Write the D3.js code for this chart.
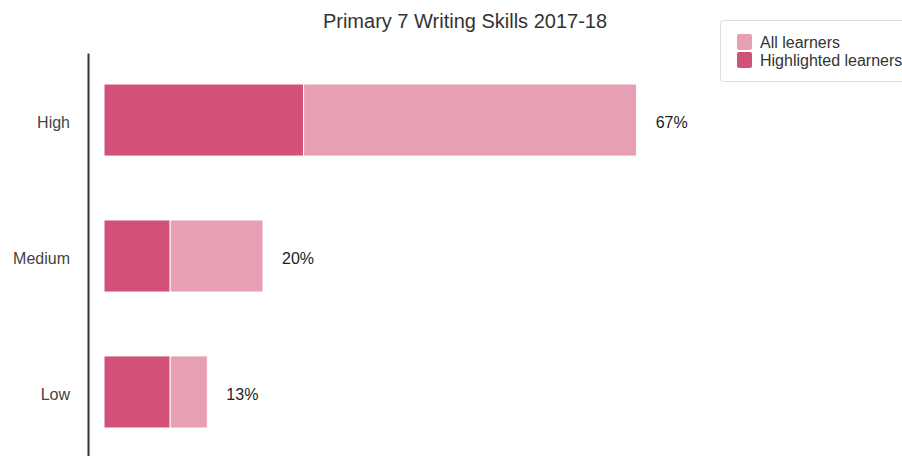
<!DOCTYPE html>
<html>
<head>
<meta charset="utf-8">
<script src="https://cdn.jsdelivr.net/npm/d3@7"></script>
<style>
  body { margin: 0; background: #fff; }
  svg { display: block; font-family: "Liberation Sans", Arial, sans-serif; }
</style>
</head>
<body>
<div id="chart"></div>
<script>
// data
const categories = ["High", "Medium", "Low"];
const allLearners = [67, 20, 13];          // % of all learners
const highlighted = [25.1, 8.3, 8.3];      // highlighted learners part
const seriesNames = ["All learners", "Highlighted learners"];
const colors = ["#e79fb3", "#d15179"];

const width = 902, height = 456;

const svg = d3.select("#chart").append("svg")
  .attr("width", width).attr("height", height);

// scales
const x = d3.scaleLinear().domain([0, 100]).range([104, 899]);
const y = d3.scaleBand().domain(categories).range([53, 459])
  .paddingInner(0.47).paddingOuter(0.228);

// title
svg.append("text")
  .attr("x", 465).attr("y", 28)
  .attr("text-anchor", "middle")
  .attr("font-size", "20px")
  .attr("fill", "#333")
  .text("Primary 7 Writing Skills 2017-18");

// y axis
const yAxis = svg.append("g")
  .attr("transform", "translate(88,0)")
  .call(d3.axisLeft(y).tickSize(0).tickPadding(18));
yAxis.select(".domain").attr("stroke", "#333").attr("stroke-width", 2);
yAxis.selectAll("text").attr("font-size", "16px").attr("fill", "#444")
  .attr("dy", "0.5em")
  .attr("font-family", "Liberation Sans, Arial, sans-serif");

// bars
const rows = categories.map((c, i) => ({ cat: c, all: allLearners[i], hi: highlighted[i] }));

const bars = svg.append("g").selectAll("g").data(rows).enter().append("g");

// all learners (remainder after highlighted)
bars.append("rect")
  .attr("x", d => x(d.hi))
  .attr("y", d => y(d.cat))
  .attr("width", d => x(d.all) - x(d.hi))
  .attr("height", y.bandwidth())
  .attr("fill", colors[0])
  .attr("stroke", "#fff").attr("stroke-width", 1);

// highlighted learners
bars.append("rect")
  .attr("x", x(0))
  .attr("y", d => y(d.cat))
  .attr("width", d => x(d.hi) - x(0))
  .attr("height", y.bandwidth())
  .attr("fill", colors[1])
  .attr("stroke", "#fff").attr("stroke-width", 1);

// value labels
bars.append("text")
  .attr("x", d => x(d.all) + 19)
  .attr("y", d => y(d.cat) + y.bandwidth() / 2)
  .attr("dy", "0.5em")
  .attr("font-size", "16px")
  .attr("fill", "#222")
  .text(d => d.all + "%");

// legend
const legend = svg.append("g").attr("transform", "translate(720,20)");
legend.append("rect")
  .attr("x", 0.5).attr("y", 0.5)
  .attr("width", 230).attr("height", 61)
  .attr("rx", 3)
  .attr("fill", "#fff")
  .attr("stroke", "#ddd");

seriesNames.forEach((name, i) => {
  legend.append("rect")
    .attr("x", 17).attr("y", 14 + i * 18)
    .attr("width", 15).attr("height", 16)
    .attr("rx", 2)
    .attr("fill", colors[i]);
  legend.append("text")
    .attr("x", 40).attr("y", 28 + i * 18)
    .attr("font-size", "16px")
    .attr("fill", "#333")
    .text(name);
});
</script>
</body>
</html>
